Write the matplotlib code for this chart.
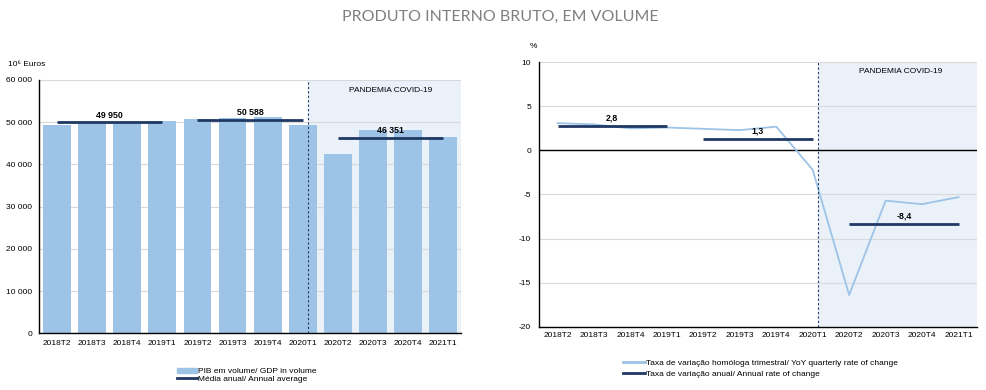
import numpy as np
import matplotlib
matplotlib.use('Agg')
import matplotlib.pyplot as plt
from matplotlib.lines import Line2D
from matplotlib.patches import Patch

plt.rcParams['font.family'] = ['Liberation Sans', 'DejaVu Sans']

quarters = ['2018T2', '2018T3', '2018T4', '2019T1', '2019T2', '2019T3',
            '2019T4', '2020T1', '2020T2', '2020T3', '2020T4', '2021T1']

# PIB em volume (10^6 euros)
gdp = [49360, 49900, 49850, 50320, 50790, 50950,
       51270, 49290, 42460, 48100, 48180, 46590]

# media anual
avg_periods = [('2018T2', '2019T1'), ('2019T2', '2020T1'), ('2020T2', '2021T1')]
avg_values = [49950, 50588, 46351]

# taxa de variacao homologa trimestral (%)
yoy = [3.1, 2.95, 2.5, 2.6, 2.45, 2.3, 2.7, -2.2, -16.4, -5.7, -6.1, -5.3]
annual_rate = [2.8, 1.3, -8.4]

covid_start = 7.15

navy = '#1f3864'
light = '#9dc3e6'
shade = '#eaf1f9'
grid_c = '#d9d9d9'

fig = plt.figure(figsize=(9.87, 3.9), dpi=100)
fig.text(0.507, 1 - 17 / 390, 'PRODUTO INTERNO BRUTO, EM VOLUME', ha='center', va='center',
         fontsize=11.5, color='#7f7f7f', family=['Lato', 'DejaVu Sans'])

x = np.arange(len(quarters))


def style(ax):
    for s in ['top', 'right']:
        ax.spines[s].set_visible(False)
    for s in ['left', 'bottom']:
        ax.spines[s].set_color('black')
        ax.spines[s].set_linewidth(1.0)
    ax.yaxis.grid(True, color=grid_c, linewidth=0.8)
    ax.set_axisbelow(True)
    ax.set_xticks(x)
    ax.set_xticklabels(quarters)
    ax.tick_params(length=0, labelsize=6)
    ax.set_xlim(-0.5, 11.5)


# ---- left chart ----
ax1 = fig.add_axes([0.0398, 0.1454, 0.4272, 0.6496])
style(ax1)
ax1.tick_params(axis='x', pad=5)
ax1.tick_params(axis='y', pad=5)
ax1.axvspan(covid_start, 11.5, color=shade, zorder=0, lw=0)
ax1.bar(x, gdp, width=0.79, color=light, zorder=2)
ax1.axvline(covid_start, color=navy, lw=0.8, ls=(0, (2, 2)), zorder=3)
ax1.set_ylim(0, 60000)
ax1.set_yticks(np.arange(0, 60001, 10000))
ax1.set_yticklabels([f'{v:,.0f}'.replace(',', ' ') for v in np.arange(0, 60001, 10000)])
for (a, b), v in zip(avg_periods, avg_values):
    i0, i1 = quarters.index(a), quarters.index(b)
    ax1.plot([i0, i1], [v, v], color=navy, lw=2, zorder=4, solid_capstyle='butt')
    ax1.annotate(f'{v:,.0f}'.replace(',', ' '), ((i0 + i1) / 2, v), xytext=(0, 2),
                 textcoords='offset points', ha='center', va='bottom',
                 fontsize=6.3, fontweight='bold', zorder=5)
ax1.text(9.5, 57500, 'PANDEMIA COVID-19', ha='center', va='center', fontsize=6)
fig.text(0.008, 1 - 65 / 390, '10⁶ Euros', fontsize=6, va='center')

ax1.legend([Patch(color=light), Line2D([], [], color=navy, lw=2)],
           ['PIB em volume/ GDP in volume', 'Média anual/ Annual average'],
           loc='upper center', bbox_to_anchor=(0.25, 0.068), bbox_transform=fig.transFigure,
           frameon=False, fontsize=6, labelspacing=0.05, handlelength=2.4,
           handleheight=0.6, handletextpad=0.2, borderpad=0)

# ---- right chart ----
ax2 = fig.add_axes([0.5464, 0.1623, 0.4432, 0.678])
style(ax2)
ax2.tick_params(axis='x', pad=4)
ax2.tick_params(axis='y', pad=6)
ax2.axvspan(covid_start, 11.5, color=shade, zorder=0, lw=0)
ax2.axhline(0, color='black', lw=1.0, zorder=2)
ax2.plot(x, yoy, color=light, lw=1.3, zorder=3)
ax2.axvline(covid_start, color=navy, lw=0.8, ls=(0, (2, 2)), zorder=3)
ax2.set_ylim(-20, 10)
ax2.set_yticks(np.arange(-20, 11, 5))
ax2.set_yticklabels([str(v) for v in np.arange(-20, 11, 5)])
for (a, b), v in zip(avg_periods, annual_rate):
    i0, i1 = quarters.index(a), quarters.index(b)
    ax2.plot([i0, i1], [v, v], color=navy, lw=2, zorder=4, solid_capstyle='butt')
    ax2.annotate(f'{v:.1f}'.replace('.', ','), ((i0 + i1) / 2, v), xytext=(0, 2.5),
                 textcoords='offset points', ha='center', va='bottom',
                 fontsize=6.3, fontweight='bold', zorder=5)
ax2.text(9.4, 9.0, 'PANDEMIA COVID-19', ha='center', va='center', fontsize=6)
fig.text(0.54, 1 - 47 / 390, '%', fontsize=6, va='center', ha='center')

ax2.legend([Line2D([], [], color=light, lw=2), Line2D([], [], color=navy, lw=2)],
           ['Taxa de variação homóloga trimestral/ YoY quarterly rate of change',
            'Taxa de variação anual/ Annual rate of change'],
           loc='upper left', bbox_to_anchor=(619 / 987, 1 - 355 / 390), bbox_transform=fig.transFigure,
           frameon=False, fontsize=6, labelspacing=0.4, handlelength=2.6,
           handletextpad=0.15, borderpad=0)

fig.savefig('out.png', dpi=100)
